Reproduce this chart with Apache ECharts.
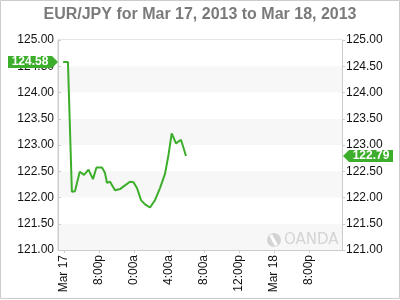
<!DOCTYPE html>
<html>
<head>
<meta charset="utf-8">
<script src="https://cdn.jsdelivr.net/npm/echarts@6/dist/echarts.min.js"></script>
<style>
html,body{margin:0;padding:0;background:#fff;}
#c{width:400px;height:300px;}
</style>
</head>
<body>
<div id="c"></div>
<script>
// Time in hours from Mar 17 00:00 (chart clock), values EUR/JPY
var hours = [15.9, 16.45, 16.9, 17.25, 17.8, 18.29, 18.8, 19.31, 19.71, 20.34, 20.68, 20.91, 21.26, 21.83, 22.4, 22.97, 23.54, 23.94, 24.34, 24.8, 25.26, 25.83, 26.4, 26.97, 27.54, 27.94, 28.31, 28.8, 29.37, 29.54, 29.94];
var values = [124.58, 124.58, 122.11, 122.12, 122.49, 122.43, 122.53, 122.35, 122.57, 122.57, 122.47, 122.28, 122.30, 122.14, 122.16, 122.23, 122.30, 122.29, 122.18, 121.95, 121.87, 121.81, 121.95, 122.18, 122.45, 122.81, 123.22, 123.03, 123.10, 123.10, 122.79];
var xTickHours = [16, 20, 24, 28, 32, 36, 40, 44];
var xTickLabels = ['Mar 17', '8:00p', '0:00a', '4:00a', '8:00a', '12:00p', 'Mar 18', '8:00p'];
var xMin = 15.314, xMax = 47.77;
var yMin = 121, yMax = 125, yStep = 0.5;
var firstValue = 124.58, lastValue = 122.79;
var title = 'EUR/JPY for Mar 17, 2013 to Mar 18, 2013';

var green = '#3dae2b';
var pts = hours.map(function (h, i) { return [h, values[i]]; });

var chart = echarts.init(document.getElementById('c'), null, {renderer: 'canvas'});
var labelFont = 'Liberation Sans, Arial, sans-serif';
chart.setOption({
  animation: false,
  backgroundColor: '#fff',
  title: {
    text: title, left: 'center', top: 2,
    textStyle: {fontFamily: labelFont, fontSize: 16, fontWeight: 'bold', color: '#7a7a7a'}
  },
  grid: {left: 58, right: 58, top: 40, bottom: 50, show: true, borderColor: '#ccc', borderWidth: 1, backgroundColor: '#fff'},
  xAxis: {
    type: 'value', min: xMin, max: xMax,
    axisLine: {show: true, lineStyle: {color: '#ccc'}},
    axisTick: {show: true, customValues: xTickHours, length: 3, lineStyle: {color: '#ccc'}},
    splitLine: {show: false},
    axisLabel: {
      customValues: xTickHours, rotate: 90, margin: 5,
      fontFamily: labelFont, fontSize: 12, color: '#111',
      formatter: function (v) {
        var i = xTickHours.indexOf(Math.round(v));
        return i >= 0 ? xTickLabels[i] : '';
      }
    }
  },
  yAxis: [{
    type: 'value', min: yMin, max: yMax, interval: yStep, position: 'left',
    axisLine: {show: true, lineStyle: {color: '#ccc'}},
    axisTick: {show: true, inside: true, length: 3, lineStyle: {color: '#ccc'}},
    splitLine: {show: false},
    splitArea: {show: true, areaStyle: {color: ['#f7f7f7', '#ffffff']}},
    axisLabel: {margin: 4, fontFamily: labelFont, fontSize: 12, color: '#111', formatter: function (v) { return v.toFixed(2); }}
  }, {
    type: 'value', min: yMin, max: yMax, interval: yStep, position: 'right',
    axisLine: {show: true, lineStyle: {color: '#ccc'}},
    axisTick: {show: true, length: 3, lineStyle: {color: '#ccc'}},
    splitLine: {show: false},
    axisLabel: {margin: 4, fontFamily: labelFont, fontSize: 12, color: '#111', formatter: function (v) { return v.toFixed(2); }}
  }],
  series: [{
    type: 'line', data: pts, showSymbol: false, symbol: 'none',
    lineStyle: {color: green, width: 2},
    markPoint: {
      silent: true,
      data: [{
        coord: [xMin, firstValue],
        symbol: 'path://M0,0 L44,0 L50,6 L44,12 L0,12 Z',
        symbolSize: [50, 12], symbolOffset: [-25, 0],
        itemStyle: {color: green},
        label: {show: true, position: 'inside', offset: [-3, 0], formatter: firstValue.toFixed(2), color: '#fff', fontWeight: 'bold', fontSize: 12, fontFamily: labelFont}
      }, {
        coord: [xMax, lastValue],
        symbol: 'path://M0,6 L6,0 L50,0 L50,12 L6,12 Z',
        symbolSize: [50, 12], symbolOffset: [26, 0],
        itemStyle: {color: green},
        label: {show: true, position: 'inside', offset: [3, 0], formatter: lastValue.toFixed(2), color: '#fff', fontWeight: 'bold', fontSize: 12, fontFamily: labelFont}
      }]
    }
  }],
  graphic: [
    {type: 'rect', shape: {x: 0.5, y: 0.5, width: 399, height: 298}, style: {fill: 'none', stroke: '#ccc', lineWidth: 1}, z: 100},
    {type: 'group', left: 267, top: 233, z: 50, children: [
      {type: 'circle', shape: {cx: 7, cy: 7, r: 7}, style: {fill: '#d4d4d4'}, z: 50},
      {type: 'rect', shape: {x: 5, y: 1, width: 3, height: 12}, rotation: 0.5, originX: 7, originY: 7, style: {fill: '#fff'}, z: 51},
      {type: 'text', x: 17, y: 0, style: {text: 'OANDA', fill: '#d4d4d4', font: '15px "DejaVu Sans", sans-serif'}, z: 50}
    ]}
  ]
});
</script>
</body>
</html>
